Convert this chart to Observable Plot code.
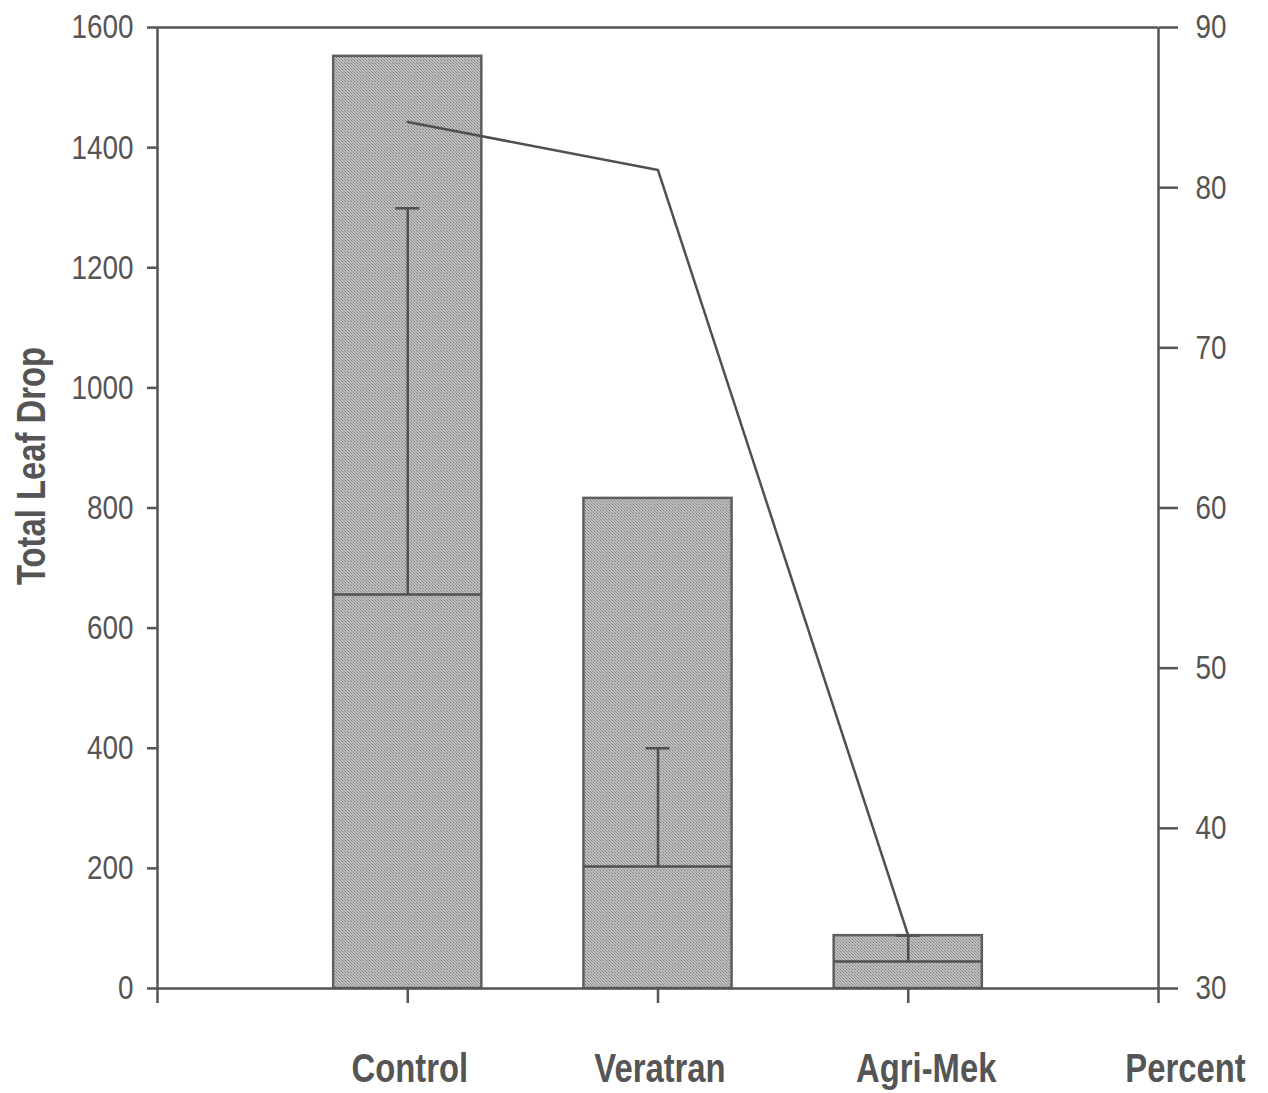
<!DOCTYPE html>
<html>
<head>
<meta charset="utf-8">
<script src="https://cdn.jsdelivr.net/npm/d3@7"></script>
<script src="https://cdn.jsdelivr.net/npm/@observablehq/plot@0.6"></script>
<style>
  html, body { margin: 0; padding: 0; background: #fff; }
  #chart { width: 1268px; height: 1093px; }
</style>
</head>
<body>
<div id="chart"></div>
<script>
// ---- data ----
const categories = ["Control", "Veratran", "Agri-Mek"];
const totalLeafDrop = [1552, 816, 88];
const medianLeafDrop = [656, 203, 45];
const upperLeafDrop = [1299, 400, 88];
const percentValues = [84.1, 81.1, 33.3];
const leftTicks = [0, 200, 400, 600, 800, 1000, 1200, 1400, 1600];
const rightTicks = [30, 40, 50, 60, 70, 80, 90];
const xLabels = ["", "Control", "Veratran", "Agri-Mek", "Percent"];

// ---- helpers ----
const leftMax = 1600, pMin = 30, pMax = 90;
const pctToY = p => (p - pMin) / (pMax - pMin) * leftMax;
const yToPct = y => Math.round(y / leftMax * (pMax - pMin) + pMin);
const bw = 0.296;   // bar half width (in category units)
const cw = 0.048;   // error cap half width

const rows = categories.map((c, k) => ({
  i: k + 1, c,
  total: totalLeafDrop[k],
  median: medianLeafDrop[k],
  upper: upperLeafDrop[k],
  pct: percentValues[k]
}));

const ink = "#555555";
const font = '"Liberation Sans", Arial, sans-serif';
const labelStyle = { anchor: "bottom", tickSize: 0, tickPadding: 65, fontSize: 40, fontWeight: "bold", label: null };

const chart = Plot.plot({
  width: 1268,
  height: 1093,
  marginLeft: 157,
  marginRight: 110,
  marginTop: 27,
  marginBottom: 105,
  x: { type: "linear", domain: [0, 4], axis: null },
  y: { type: "linear", domain: [0, leftMax], axis: null },
  style: { fontFamily: font, color: ink, background: "#fff", overflow: "visible" },
  marks: [
    // bars
    Plot.rect(rows, {
      x1: d => d.i - bw, x2: d => d.i + bw, y1: 0, y2: "total",
      fill: "url(#dither)", stroke: "#5e5e5e", strokeWidth: 2.5
    }),
    // median lines
    Plot.ruleY(rows, { x1: d => d.i - bw, x2: d => d.i + bw, y: "median", stroke: "#505050", strokeWidth: 2.5 }),
    // error bars
    Plot.ruleX(rows, { x: "i", y1: "median", y2: "upper", stroke: "#505050", strokeWidth: 2.5 }),
    Plot.ruleY(rows, { x1: d => d.i - cw, x2: d => d.i + cw, y: "upper", stroke: "#505050", strokeWidth: 2.5 }),
    // percent line
    Plot.line(rows, { x: "i", y: d => pctToY(d.pct), stroke: "#505050", strokeWidth: 2.5 }),
    // frame
    Plot.ruleY([0, leftMax], { stroke: ink, strokeWidth: 2.5 }),
    Plot.ruleX([0, 4], { stroke: ink, strokeWidth: 2.5 }),
    // left axis
    Plot.axisY(leftTicks, {
      anchor: "left", tickSize: 10, tickPadding: 14, fontSize: 34,
      strokeWidth: 2.5, label: null, tickFormat: d => String(d)
    }),
    // right axis (percent)
    Plot.axisY(rightTicks.map(pctToY), {
      anchor: "right", tickSize: 19, tickPadding: 18, fontSize: 34,
      strokeWidth: 2.5, label: null, tickFormat: yToPct
    }),
    // bottom axis ticks
    Plot.axisX([0, 1, 2, 3, 4], {
      anchor: "bottom", tickSize: 15, strokeWidth: 2.5, label: null,
      tickFormat: () => ""
    }),
    // category labels
    Plot.axisX([1, 2], { ...labelStyle, dx: 2, tickFormat: i => xLabels[i] }),
    Plot.axisX([3], { ...labelStyle, dx: 18, tickFormat: i => xLabels[i] }),
    Plot.axisX([4], { ...labelStyle, dx: 27, tickFormat: i => xLabels[i] }),
    // y axis title
    Plot.text(["Total Leaf Drop"], {
      frameAnchor: "left", rotate: -90, dx: -125, dy: -42,
      textAnchor: "middle", lineAnchor: "middle",
      text: d => d, fontSize: 40, fontWeight: "bold", fill: ink
    })
  ]
});

// dithered grey fill pattern for the bars
const svg = d3.select(chart);
const defs = svg.insert("defs", ":first-child");
const pat = defs.append("pattern")
  .attr("id", "dither").attr("patternUnits", "userSpaceOnUse")
  .attr("width", 3).attr("height", 3);
pat.append("rect").attr("width", 3).attr("height", 3).attr("fill", "#c0c0c0");
pat.append("rect").attr("x", 0).attr("y", 0).attr("width", 1).attr("height", 1).attr("fill", "#7c7c7c");
pat.append("rect").attr("x", 1).attr("y", 1).attr("width", 1).attr("height", 1).attr("fill", "#9c9c9c");
pat.append("rect").attr("x", 2).attr("y", 2).attr("width", 1).attr("height", 1).attr("fill", "#8c8c8c");

document.getElementById("chart").appendChild(chart);

// condensed lettering (like Arial Narrow): squeeze each label horizontally
svg.selectAll("text").each(function () {
  const len = this.getComputedTextLength();
  if (len > 0) {
    this.setAttribute("textLength", (len * 0.82).toFixed(1));
    this.setAttribute("lengthAdjust", "spacingAndGlyphs");
  }
});
</script>
</body>
</html>
